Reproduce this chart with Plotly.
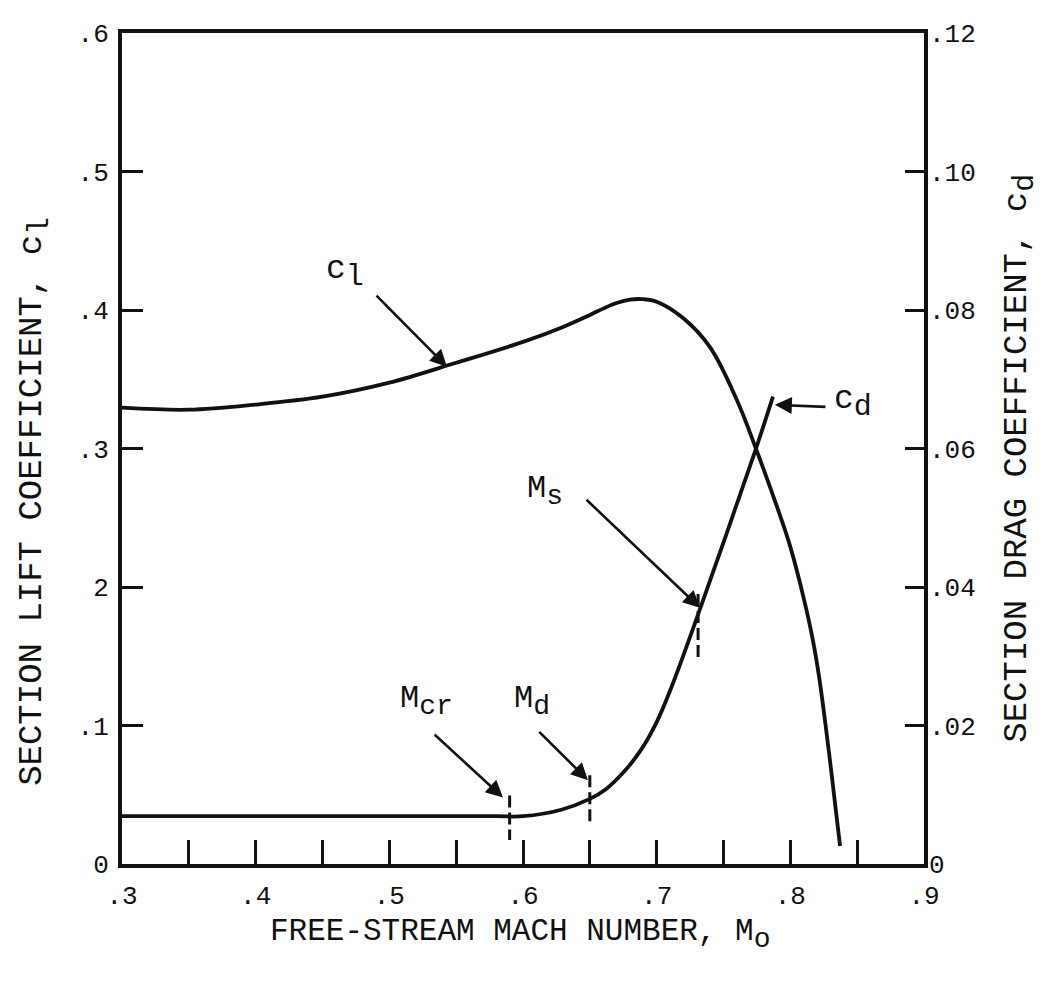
import plotly.graph_objects as go

# ---- data ----
mach_cl = [0.30, 0.35, 0.40, 0.45, 0.50, 0.55, 0.60, 0.63, 0.65, 0.66, 0.67, 0.68, 0.69,
           0.70, 0.72, 0.74, 0.76, 0.775, 0.79, 0.80, 0.81, 0.817, 0.822, 0.83, 0.8372]
cl = [0.3295, 0.328, 0.3317, 0.3374, 0.3475, 0.3619, 0.377, 0.3878, 0.3964, 0.401,
      0.405, 0.4075, 0.4078, 0.406, 0.394, 0.373, 0.335, 0.298, 0.258, 0.229, 0.192,
      0.161, 0.132, 0.072, 0.013]

mach_cd = [0.30, 0.40, 0.50, 0.58, 0.60, 0.628, 0.65, 0.662, 0.675, 0.688, 0.70,
           0.712, 0.7324, 0.7736, 0.787]
cd = [0.0069, 0.0069, 0.0069, 0.0069, 0.0069, 0.0078, 0.0094, 0.0108, 0.0132, 0.0164,
      0.0205, 0.0260, 0.0368, 0.0596, 0.0675]

# characteristic Mach numbers (dashed markers on the c_d curve)
mark_names = ["M", "M", "M"]
mark_subs = ["cr", "d", "s"]
mark_mach = [0.590, 0.650, 0.731]
mark_cd_lo = [0.00345, 0.0059, 0.0294]
mark_cd_hi = [0.0099, 0.0128, 0.0390]

# label / arrow anchors
mark_label_x = [0.5275, 0.6066, 0.6165]
mark_label_y = [0.0236, 0.0236, 0.0538]
mark_tail_x = [0.5327, 0.6110, 0.6464]
mark_tail_y = [0.0189, 0.0193, 0.0528]
mark_head_x = [0.5850, 0.6486, 0.7324]
mark_head_y = [0.0096, 0.0121, 0.0370]

cl_label = (0.4668, 0.4273)
cl_arrow = (0.4893, 0.4115, 0.5431, 0.3590)
cd_label = (0.8310, 0.0666)
cd_arrow = (0.8274, 0.0660, 0.7885, 0.0663)

x_ticks = [0.30, 0.35, 0.40, 0.45, 0.50, 0.55, 0.60, 0.65, 0.70, 0.75, 0.80, 0.85, 0.90]
x_ticktext = [".3", "", ".4", "", ".5", "", ".6", "", ".7", "", ".8", "", ".9"]
yl_ticks = [0, 0.1, 0.2, 0.3, 0.4, 0.5, 0.6]
yl_ticktext = ["0", ".1", "2", ".3", ".4", ".5", ".6"]
yr_ticks = [0, 0.02, 0.04, 0.06, 0.08, 0.10, 0.12]
yr_ticktext = ["0", ".02", ".04", ".06", ".08", ".10", ".12"]

FONT = "Liberation Mono"
INK = "#111111"


def sub(base, s, size):
    # typewriter style subscript: lowered, nearly full size
    return f"{base}<sub><span style='font-size:{size}px'>{s}</span></sub>"


fig = go.Figure()
fig.add_trace(go.Scatter(x=mach_cl, y=cl, mode="lines", yaxis="y",
                         line=dict(color=INK, width=3.8, shape="spline", smoothing=1.0),
                         showlegend=False, hoverinfo="skip"))
fig.add_trace(go.Scatter(x=mach_cd, y=cd, mode="lines", yaxis="y2",
                         line=dict(color=INK, width=3.8, shape="spline", smoothing=1.0),
                         showlegend=False, hoverinfo="skip"))
for m, lo, hi in zip(mark_mach, mark_cd_lo, mark_cd_hi):
    fig.add_trace(go.Scatter(x=[m, m], y=[hi, lo], mode="lines", yaxis="y2",
                             line=dict(color=INK, width=3, dash="12px,5px"),
                             showlegend=False, hoverinfo="skip"))

ann = []
ann.append(dict(x=cl_label[0], y=cl_label[1], xref="x", yref="y", text=sub("c", "l", 30),
                showarrow=False, font=dict(family=FONT, size=33, color=INK)))
ann.append(dict(x=cl_arrow[2], y=cl_arrow[3], ax=cl_arrow[0], ay=cl_arrow[1],
                xref="x", yref="y", axref="x", ayref="y", text="", showarrow=True,
                arrowhead=2, arrowsize=1.3, arrowwidth=2.6, arrowcolor=INK))
ann.append(dict(x=cd_label[0], y=cd_label[1], xref="x", yref="y2", text=sub("c", "d", 30),
                showarrow=False, xanchor="left", font=dict(family=FONT, size=33, color=INK)))
ann.append(dict(x=cd_arrow[2], y=cd_arrow[3], ax=cd_arrow[0], ay=cd_arrow[1],
                xref="x", yref="y2", axref="x", ayref="y2", text="", showarrow=True,
                arrowhead=2, arrowsize=1.3, arrowwidth=2.6, arrowcolor=INK))
for name, s, lx, ly, tx, ty, hx, hy in zip(mark_names, mark_subs, mark_label_x, mark_label_y,
                                            mark_tail_x, mark_tail_y, mark_head_x, mark_head_y):
    ann.append(dict(x=lx, y=ly, xref="x", yref="y2", text=sub(name, s, 28), showarrow=False,
                    font=dict(family=FONT, size=32, color=INK)))
    ann.append(dict(x=hx, y=hy, ax=tx, ay=ty, xref="x", yref="y2", axref="x", ayref="y2",
                    text="", showarrow=True, arrowhead=2, arrowsize=1.3, arrowwidth=2.6,
                    arrowcolor=INK))

# axis titles
ann.append(dict(x=0.4975, y=-0.0851, xref="paper", yref="paper", showarrow=False,
                xanchor="center", yanchor="middle",
                text="FREE-STREAM MACH NUMBER, " + sub("M", "o", 28),
                font=dict(family=FONT, size=31, color=INK)))
ann.append(dict(x=-0.1085, y=0.437, xref="paper", yref="paper", showarrow=False,
                xanchor="center", yanchor="middle",
                textangle=-90, text="SECTION LIFT COEFFICIENT, " + sub("c", "l", 30),
                font=dict(family=FONT, size=34, color=INK)))
ann.append(dict(x=1.12, y=0.488, xref="paper", yref="paper", showarrow=False,
                xanchor="center", yanchor="middle",
                textangle=-90, text="SECTION DRAG COEFFICIENT, " + sub("c", "d", 30),
                font=dict(family=FONT, size=34, color=INK)))

fig.update_layout(
    width=1054, height=983,
    margin=dict(l=114, r=138, t=22, b=127),
    paper_bgcolor="white", plot_bgcolor="white",
    font=dict(family=FONT, size=26, color=INK),
    annotations=ann,
    xaxis=dict(range=[0.3, 0.9], tickvals=x_ticks, ticktext=x_ticktext,
               ticks="inside", ticklen=24, tickwidth=3, tickcolor=INK,
               showline=True, mirror=True, linewidth=4, linecolor=INK,
               showgrid=False, zeroline=False, ticklabelstandoff=5,
               tickfont=dict(family=FONT, size=26, color=INK)),
    yaxis=dict(range=[0, 0.6], tickvals=yl_ticks, ticktext=yl_ticktext,
               ticks="inside", ticklen=21, tickwidth=3, tickcolor=INK,
               showline=True, mirror=True, linewidth=4, linecolor=INK,
               showgrid=False, zeroline=False, ticklabelstandoff=4,
               tickfont=dict(family=FONT, size=26, color=INK)),
    yaxis2=dict(range=[0, 0.12], tickvals=yr_ticks, ticktext=yr_ticktext,
                overlaying="y", side="right",
                ticks="inside", ticklen=19, tickwidth=3, tickcolor=INK,
                showline=False, showgrid=False, zeroline=False, ticklabelstandoff=4,
                tickfont=dict(family=FONT, size=26, color=INK)),
)

fig.write_html("out.html")
